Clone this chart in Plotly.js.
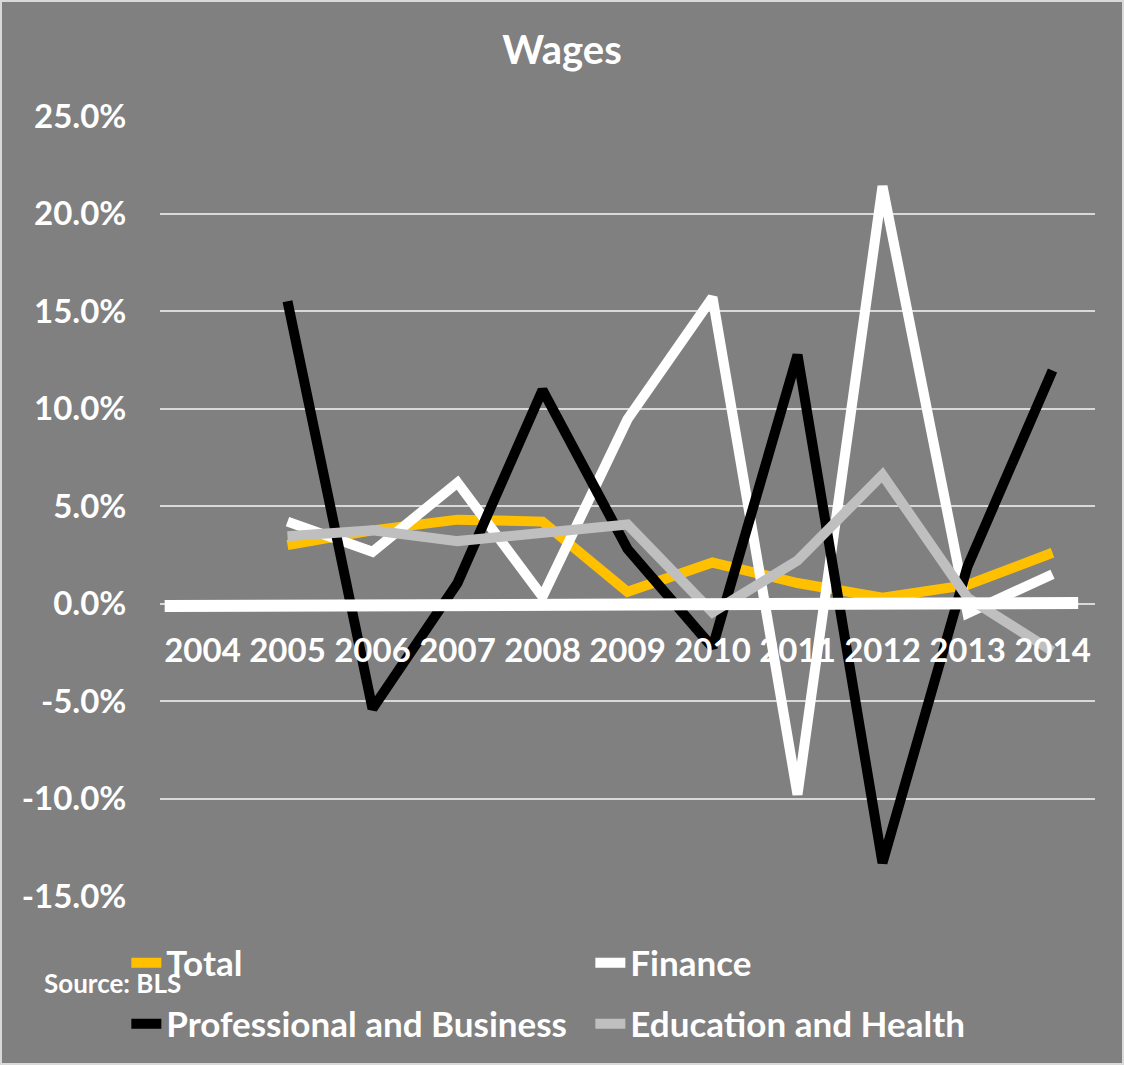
<!DOCTYPE html>
<html>
<head>
<meta charset="utf-8">
<script src="https://cdn.plot.ly/plotly-3.0.1.min.js"></script>
<style>
  html, body { margin: 0; padding: 0; background: #808080; }
  #chart { width: 1124px; height: 1065px; }
</style>
</head>
<body>
<div id="chart"></div>
<script>
// --- Data (annual % change in wages) ---
const years = ['2004', '2005', '2006', '2007', '2008', '2009', '2010', '2011', '2012', '2013', '2014'];
const total = [null, 0.030, 0.0375, 0.043, 0.042, 0.006, 0.021, 0.0105, 0.003, 0.0095, 0.026];
const finance = [null, 0.042, 0.0265, 0.062, 0.0035, 0.0945, 0.157, -0.098, 0.214, -0.005, 0.015];
const profBusiness = [null, 0.155, -0.054, 0.0105, 0.1095, 0.028, -0.0225, 0.1275, -0.133, 0.019, 0.1195];
const eduHealth = [null, 0.0345, 0.0375, 0.032, 0.036, 0.0405, -0.0045, 0.022, 0.066, 0.003, -0.0245];

const seriesNames = ['Total', 'Finance', 'Professional and Business', 'Education and Health'];
const seriesColors = ['#FFC000', '#FFFFFF', '#000000', '#BFBFBF'];
const seriesValues = [total, finance, profBusiness, eduHealth];
const seriesLegend = ['legend', 'legend', 'legend2', 'legend2'];

const yTicks = [-0.15, -0.10, -0.05, 0, 0.05, 0.10, 0.15, 0.20, 0.25];
// Excel-style labels with a plain hyphen for negatives
const yTickText = yTicks.map(v => (v * 100).toFixed(1).replace('-0.0', '0.0') + '%');

const FONT = 'Lato, "Open Sans", sans-serif';
const legendFont = { family: FONT, size: 35, color: '#FFFFFF', weight: 'bold' };

const traces = seriesValues.map((vals, i) => ({
    x: years, y: vals, name: seriesNames[i],
    type: 'scatter', mode: 'lines',
    line: { color: seriesColors[i], width: 10 },
    legend: seriesLegend[i]
}));

const legendBase = {
    orientation: 'h', xanchor: 'left', yanchor: 'middle',
    x: -0.036, entrywidth: 419, entrywidthmode: 'pixels',
    bgcolor: 'rgba(0,0,0,0)', font: legendFont
};

const layout = {
    width: 1124, height: 1065,
    paper_bgcolor: '#808080', plot_bgcolor: '#808080',
    margin: { l: 160, r: 29, t: 116, b: 169 },
    font: { family: FONT, color: '#FFFFFF', size: 33, weight: 'bold' },
    title: {
        text: '<b>Wages</b>', x: 0.5, xanchor: 'center', y: 0.953, yanchor: 'middle',
        font: { family: FONT, size: 40, color: '#FFFFFF' }
    },
    xaxis: {
        type: 'category', range: [-0.5, 10.5],
        anchor: 'free', position: 0.375,
        showgrid: false, showline: false, zeroline: false,
        ticks: 'outside', ticklen: 18, tickcolor: 'rgba(0,0,0,0)',
        tickfont: { family: FONT, size: 33, color: '#FFFFFF', weight: 'bold' }
    },
    yaxis: {
        range: [-0.15, 0.25], tickvals: yTicks, ticktext: yTickText,
        showgrid: true, gridcolor: '#D9D9D9', gridwidth: 2,
        zeroline: true, zerolinecolor: '#D9D9D9', zerolinewidth: 2,
        showline: false,
        ticks: 'outside', ticklen: 26, tickcolor: 'rgba(0,0,0,0)',
        tickfont: { family: FONT, size: 33, color: '#FFFFFF', weight: 'bold' }
    },
    showlegend: true,
    legend: { ...legendBase, y: -(963 - 896) / 780 },
    legend2: { ...legendBase, y: -(1024 - 896) / 780 },
    shapes: [
        // thick white band drawn over the zero line
        { type: 'line', xref: 'paper', yref: 'y', x0: 0.005, x1: 0.982, y0: -0.0013, y1: 0.0002,
          line: { color: '#FFFFFF', width: 12 }, layer: 'above' },
        // chart border
        { type: 'rect', xref: 'paper', yref: 'paper',
          x0: -159 / 935, x1: 963 / 935, y0: -168 / 780, y1: 895 / 780,
          line: { color: '#D9D9D9', width: 2 }, fillcolor: 'rgba(0,0,0,0)', layer: 'below' }
    ],
    annotations: [
        { text: '<b>Source: BLS</b>', xref: 'paper', yref: 'paper',
          x: (42 - 160) / 935, xanchor: 'left', y: -(983 - 896) / 780, yanchor: 'middle',
          showarrow: false, font: { family: FONT, size: 26, color: '#FFFFFF' } }
    ]
};

Plotly.newPlot('chart', traces, layout, { displayModeBar: false, staticPlot: true });
</script>
</body>
</html>
